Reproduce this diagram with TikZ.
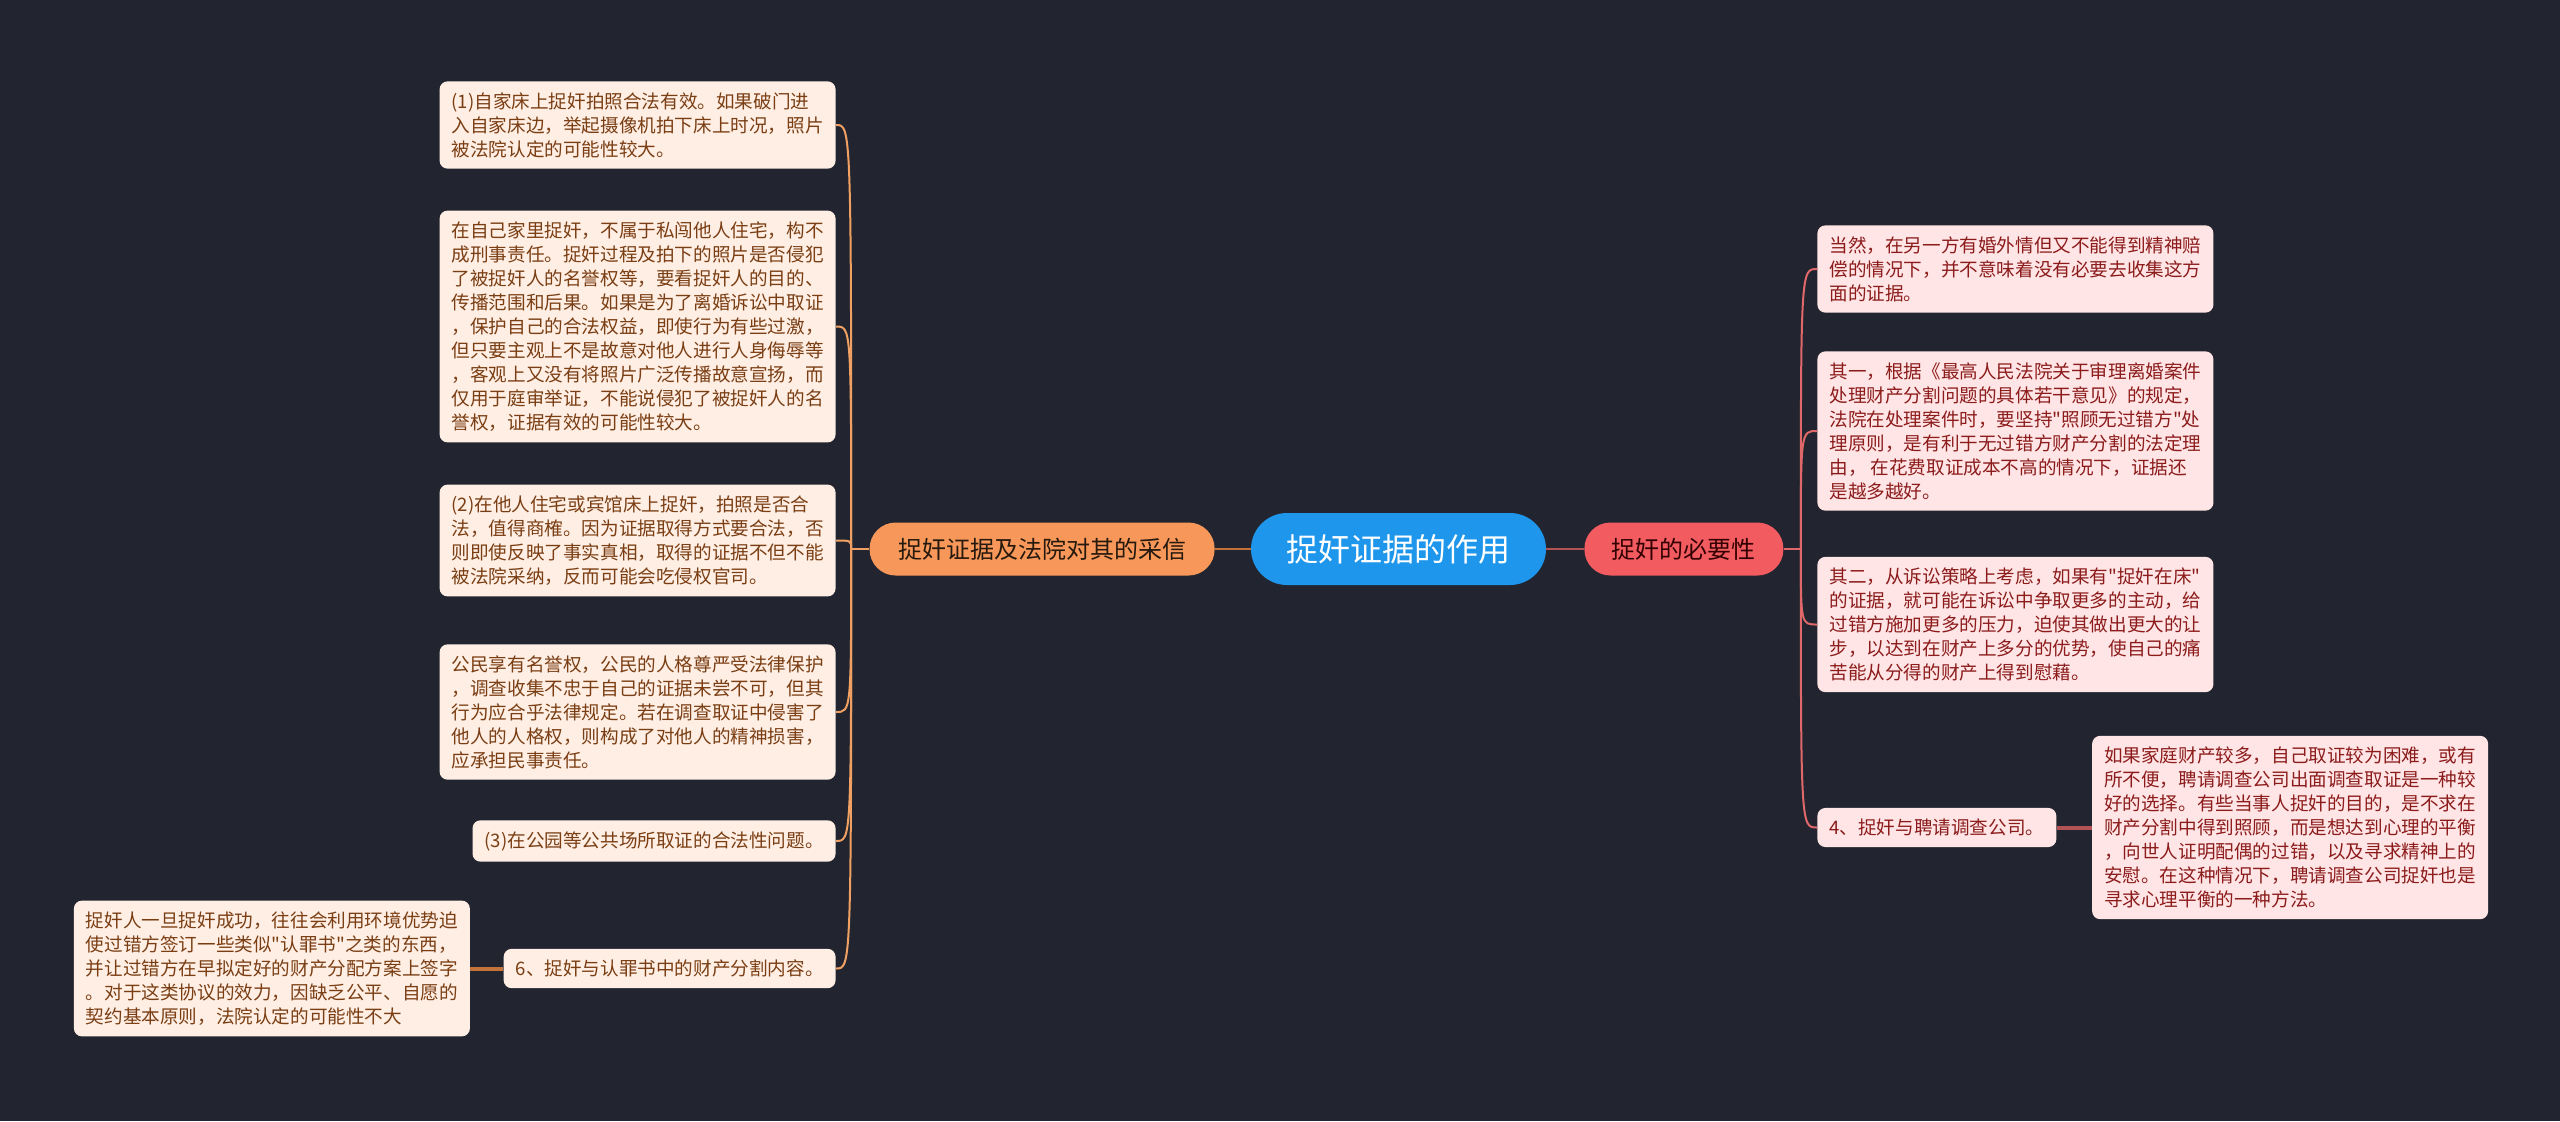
\documentclass[tikz,border=0pt]{standalone}
\usepackage{fontspec}
\setmainfont{Noto Sans CJK SC}[Ligatures=TeXOff]
\usepackage{xcolor}
\usepackage{tikz}
\usetikzlibrary{positioning}
\definecolor{bgc}{HTML}{22252F}
\definecolor{rootc}{HTML}{1E96EB}
\definecolor{orng}{HTML}{F7985A}
\definecolor{orngline}{HTML}{EFA062}
\definecolor{orngdark}{HTML}{C4723A}
\definecolor{redc}{HTML}{F25C60}
\definecolor{redline}{HTML}{E0686A}
\definecolor{leafo}{HTML}{FFEEE3}
\definecolor{leafotxt}{HTML}{7A3E14}
\definecolor{leafr}{HTML}{FFE5E5}
\definecolor{leafrtxt}{HTML}{8C1C1C}
\tikzset{
  leaf/.style={rounded corners=4pt,align=left,font=\fontsize{9.3}{12}\selectfont,
               inner xsep=6pt,inner ysep=5.5pt},
  leafL/.style={leaf,fill=leafo,text=leafotxt},
  leafR/.style={leaf,fill=leafr,text=leafrtxt},
  root/.style={fill=rootc,text=white,rounded corners=18pt,minimum width=147.5pt,
               minimum height=36pt,font=\fontsize{16}{19}\selectfont},
  brL/.style={fill=orng,text=black!80!brown,rounded corners=13pt,minimum width=172.5pt,
              minimum height=26.5pt,font=\fontsize{12}{14}\selectfont},
  brR/.style={brL,fill=redc,text=black!80!red,minimum width=99.5pt},
  lnL/.style={orngline,line width=1pt},
  lnR/.style={redline,line width=1pt},
}
\begin{document}
\begin{tikzpicture}[x=0.5pt,y=-0.5pt]
  \fill[bgc] (0,0) rectangle (2560,1121);
  \useasboundingbox (0,0) rectangle (2560,1121);
  % centre and the two branches
  \node[root] (root) at (1398.5,549) {捉奸证据的作用};
  \node[brL,anchor=east] (lb) at (1215,549) {捉奸证据及法院对其的采信};
  \node[brR,anchor=west] (rb) at (1584,549) {捉奸的必要性};
  \draw[orngdark,line width=1.2pt] (root.west) -- (lb.east);
  \draw[redline!80!black,line width=1.2pt] (root.east) -- (rb.west);
  % left leaves
  \node[leafL,anchor=east] (l1) at (836,125) {(1)自家床上捉奸拍照合法有效。如果破门进\\入自家床边，举起摄像机拍下床上时况，照片\\被法院认定的可能性较大。};
  \node[leafL,anchor=east] (l2) at (836,326.5) {在自己家里捉奸，不属于私闯他人住宅，构不\\成刑事责任。捉奸过程及拍下的照片是否侵犯\\了被捉奸人的名誉权等，要看捉奸人的目的、\\传播范围和后果。如果是为了离婚诉讼中取证\\，保护自己的合法权益，即使行为有些过激，\\但只要主观上不是故意对他人进行人身侮辱等\\，客观上又没有将照片广泛传播故意宣扬，而\\仅用于庭审举证，不能说侵犯了被捉奸人的名\\誉权，证据有效的可能性较大。};
  \node[leafL,anchor=east] (l3) at (836,540.5) {(2)在他人住宅或宾馆床上捉奸，拍照是否合\\法，值得商榷。因为证据取得方式要合法，否\\则即使反映了事实真相，取得的证据不但不能\\被法院采纳，反而可能会吃侵权官司。};
  \node[leafL,anchor=east] (l4) at (836,712) {公民享有名誉权，公民的人格尊严受法律保护\\，调查收集不忠于自己的证据未尝不可，但其\\行为应合乎法律规定。若在调查取证中侵害了\\他人的人格权，则构成了对他人的精神损害，\\应承担民事责任。};
  \node[leafL,anchor=east] (l5) at (836,841) {(3)在公园等公共场所取证的合法性问题。};
  \node[leafL,anchor=east] (l6) at (836,968.5) {6、捉奸与认罪书中的财产分割内容。};
  \node[leafL,left=16.5pt of l6] (l6c) {捉奸人一旦捉奸成功，往往会利用环境优势迫\\使过错方签订一些类似"认罪书"之类的东西，\\并让过错方在早拟定好的财产分配方案上签字\\。对于这类协议的效力，因缺乏公平、自愿的\\契约基本原则，法院认定的可能性不大};
  \coordinate (hubL) at ([xshift=-9pt]lb.west);
  \draw[lnL] (lb.west) -- (hubL);
  \foreach \n in {l1,l2,l3,l4,l5,l6}
    \draw[lnL] (hubL) .. controls (hubL |- \n.east) .. (\n.east);
  \draw[orngdark,line width=2pt] (l6.west) -- (l6c.east);
  % right leaves
  \node[leafR,anchor=west] (r1) at (1817,269) {当然，在另一方有婚外情但又不能得到精神赔\\偿的情况下，并不意味着没有必要去收集这方\\面的证据。};
  \node[leafR,anchor=west] (r2) at (1817,431) {其一，根据《最高人民法院关于审理离婚案件\\处理财产分割问题的具体若干意见》的规定，\\法院在处理案件时，要坚持"照顾无过错方"处\\理原则，是有利于无过错方财产分割的法定理\\由， 在花费取证成本不高的情况下，证据还\\是越多越好。};
  \node[leafR,anchor=west] (r3) at (1817,624.5) {其二，从诉讼策略上考虑，如果有"捉奸在床"\\的证据，就可能在诉讼中争取更多的主动，给\\过错方施加更多的压力，迫使其做出更大的让\\步，以达到在财产上多分的优势，使自己的痛\\苦能从分得的财产上得到慰藉。};
  \node[leafR,anchor=west] (r4) at (1817,827.5) {4、捉奸与聘请调查公司。};
  \node[leafR,right=17.5pt of r4] (r4c) {如果家庭财产较多，自己取证较为困难，或有\\所不便，聘请调查公司出面调查取证是一种较\\好的选择。有些当事人捉奸的目的，是不求在\\财产分割中得到照顾，而是想达到心理的平衡\\，向世人证明配偶的过错，以及寻求精神上的\\安慰。在这种情况下，聘请调查公司捉奸也是\\寻求心理平衡的一种方法。};
  \coordinate (hubR) at ([xshift=8.5pt]rb.east);
  \draw[lnR] (rb.east) -- (hubR);
  \foreach \n in {r1,r2,r3,r4}
    \draw[lnR] (hubR) .. controls (hubR |- \n.west) .. (\n.west);
  \draw[redline!80!black,line width=2pt] (r4.east) -- (r4c.west);
\end{tikzpicture}
\end{document}
